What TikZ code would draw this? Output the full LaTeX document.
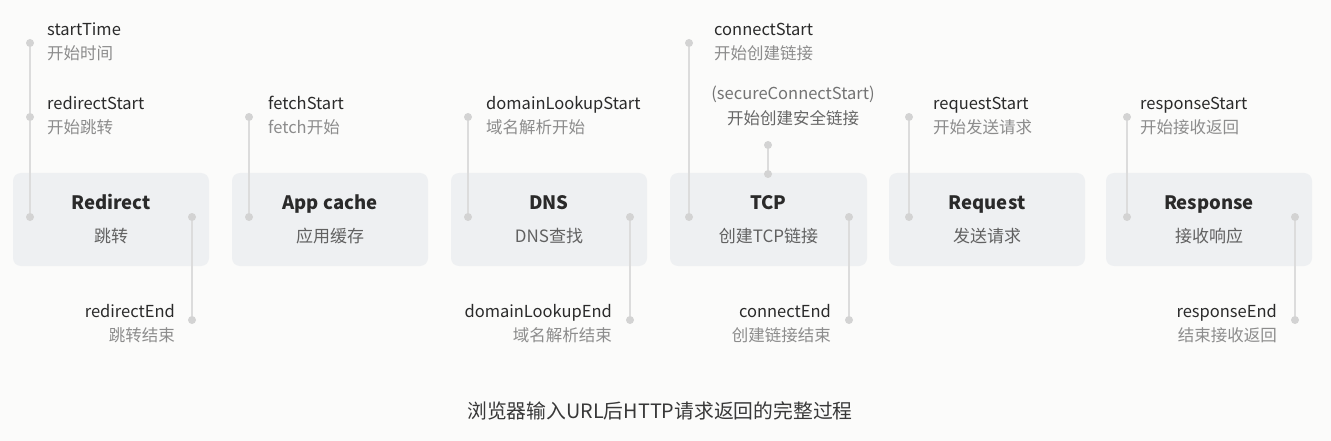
\documentclass[tikz,border=0pt]{standalone}
\usepackage{fontspec}
\setmainfont{Noto Sans CJK SC}
\usetikzlibrary{positioning}

\definecolor{paper}{HTML}{FBFBFA}
\definecolor{boxfill}{HTML}{EEF0F2}
\definecolor{linegray}{HTML}{DCDCDC}
\definecolor{dotgray}{HTML}{D3D3D3}
\definecolor{textdark}{HTML}{2A2A2A}
\definecolor{textgray}{HTML}{8C8C8C}

\tikzset{
  stage/.style={fill=boxfill, rounded corners=8pt, minimum height=93pt, inner sep=0pt},
  stagetitle/.style={anchor=base, inner sep=0pt, text=textdark, font=\fontsize{18.5}{20}\selectfont\bfseries},
  stagesub/.style={anchor=base, inner sep=0pt, text=black!62, font=\fontsize{17}{18}\selectfont},
  evname/.style={inner sep=0pt, text=textdark, font=\fontsize{16.5}{18}\selectfont},
  evzh/.style={inner sep=0pt, text=textgray, font=\fontsize{16.5}{18}\selectfont},
  dot/.style={circle, fill=dotgray, minimum size=8pt, inner sep=0pt},
  link/.style={draw=linegray, line width=2pt},
}

\begin{document}
\begin{tikzpicture}[x=1pt, y=-1pt]
    \fill[paper] (0,0) rectangle (1331,441);

    % stages
    \node[stage, minimum width=196pt] (redirect) at (111,219.5) {};
    \node[stage, minimum width=196pt] (appcache) at (330,219.5) {};
    \node[stage, minimum width=196pt] (dns) at (549,219.5) {};
    \node[stage, minimum width=197pt] (tcp) at (768.5,219.5) {};
    \node[stage, minimum width=196pt] (request) at (987,219.5) {};
    \node[stage, minimum width=206pt] (response) at (1209,219.5) {};

    \node[stagetitle] (redirect-t) at (111,209) {Redirect};
    \node[stagesub] (redirect-s) at (111,242) {跳转};
    \node[stagetitle] (appcache-t) at (330,209) {App cache};
    \node[stagesub] (appcache-s) at (330,242) {应用缓存};
    \node[stagetitle] (dns-t) at (549,209) {DNS};
    \node[stagesub] (dns-s) at (549,242) {DNS查找};
    \node[stagetitle] (tcp-t) at (768.5,209) {TCP};
    \node[stagesub] (tcp-s) at (768.5,242) {创建TCP链接};
    \node[stagetitle] (request-t) at (987,209) {Request};
    \node[stagesub] (request-s) at (987,242) {发送请求};
    \node[stagetitle] (response-t) at (1209,209) {Response};
    \node[stagesub] (response-s) at (1209,242) {接收响应};

    % dots
    \node[dot] (startTime) at (30,43) {};
    \node[dot] (redirectStart) at (30,117) {};
    \node[dot] (redirect-in) at (30,217) {};
    \node[dot] (redirect-out) at (192,217) {};
    \node[dot] (redirectEnd) at (192,320) {};
    \node[dot] (fetchStart) at (249,117) {};
    \node[dot] (appcache-in) at (249,217) {};
    \node[dot] (domainLookupStart) at (468,117) {};
    \node[dot] (dns-in) at (468,217) {};
    \node[dot] (dns-out) at (630,217) {};
    \node[dot] (domainLookupEnd) at (630,320) {};
    \node[dot] (connectStart) at (689,43) {};
    \node[dot] (tcp-in) at (689,217) {};
    \node[dot] (secureConnectStart) at (768,145) {};
    \node[dot] (tcp-top) at (768,174) {};
    \node[dot] (tcp-out) at (849,217) {};
    \node[dot] (connectEnd) at (849,320) {};
    \node[dot] (requestStart) at (909,117) {};
    \node[dot] (request-in) at (909,217) {};
    \node[dot] (responseStart) at (1127,117) {};
    \node[dot] (response-in) at (1127,217) {};
    \node[dot] (response-out) at (1295,217) {};
    \node[dot] (responseEnd) at (1295,320) {};

    \draw[link] (startTime) -- (redirectStart) -- (redirect-in)
    (redirect-out) -- (redirectEnd)
    (fetchStart) -- (appcache-in)
    (domainLookupStart) -- (dns-in)
    (dns-out) -- (domainLookupEnd)
    (connectStart) -- (tcp-in)
    (secureConnectStart) -- (tcp-top)
    (tcp-out) -- (connectEnd)
    (requestStart) -- (request-in)
    (responseStart) -- (response-in)
    (response-out) -- (responseEnd);

    % event labels
    \node[evname, anchor=base west] (startTime-n) at (47,36) {startTime};
    \node[evzh, anchor=base west] (startTime-z) at (47,60) {开始时间};
    \node[evname, anchor=base west] (redirectStart-n) at (47,110) {redirectStart};
    \node[evzh, anchor=base west] (redirectStart-z) at (47,134) {开始跳转};
    \node[evname, anchor=base east] (redirectEnd-n) at (175,317) {redirectEnd};
    \node[evzh, anchor=base east] (redirectEnd-z) at (175,341) {跳转结束};
    \node[evname, anchor=base west] (fetchStart-n) at (268,110) {fetchStart};
    \node[evzh, anchor=base west] (fetchStart-z) at (268,134) {fetch开始};
    \node[evname, anchor=base west] (domainLookupStart-n) at (486,110) {domainLookupStart};
    \node[evzh, anchor=base west] (domainLookupStart-z) at (486,134) {域名解析开始};
    \node[evname, anchor=base east] (domainLookupEnd-n) at (612,317) {domainLookupEnd};
    \node[evzh, anchor=base east] (domainLookupEnd-z) at (612,341) {域名解析结束};
    \node[evname, anchor=base west] (connectStart-n) at (714,36) {connectStart};
    \node[evzh, anchor=base west] (connectStart-z) at (714,60) {开始创建链接};
    \node[evname, text=black!55, anchor=base] (secureConnectStart-n) at (793,100) {(secureConnectStart)};
    \node[evname, text=black!60, anchor=base] (secureConnectStart-z) at (793,125) {开始创建安全链接};
    \node[evname, anchor=base east] (connectEnd-n) at (831,317) {connectEnd};
    \node[evzh, anchor=base east] (connectEnd-z) at (831,341) {创建链接结束};
    \node[evname, anchor=base west] (requestStart-n) at (933,110) {requestStart};
    \node[evzh, anchor=base west] (requestStart-z) at (933,134) {开始发送请求};
    \node[evname, anchor=base west] (responseStart-n) at (1140,110) {responseStart};
    \node[evzh, anchor=base west] (responseStart-z) at (1140,134) {开始接收返回};
    \node[evname, anchor=base east] (responseEnd-n) at (1277,317) {responseEnd};
    \node[evzh, anchor=base east] (responseEnd-z) at (1277,341) {结束接收返回};

    \node[anchor=base, inner sep=0pt, text=black!78, font=\fontsize{19.8}{21}\selectfont] (caption) at (660,418) {浏览器输入URL后HTTP请求返回的完整过程};
  \end{tikzpicture}
\end{document}
